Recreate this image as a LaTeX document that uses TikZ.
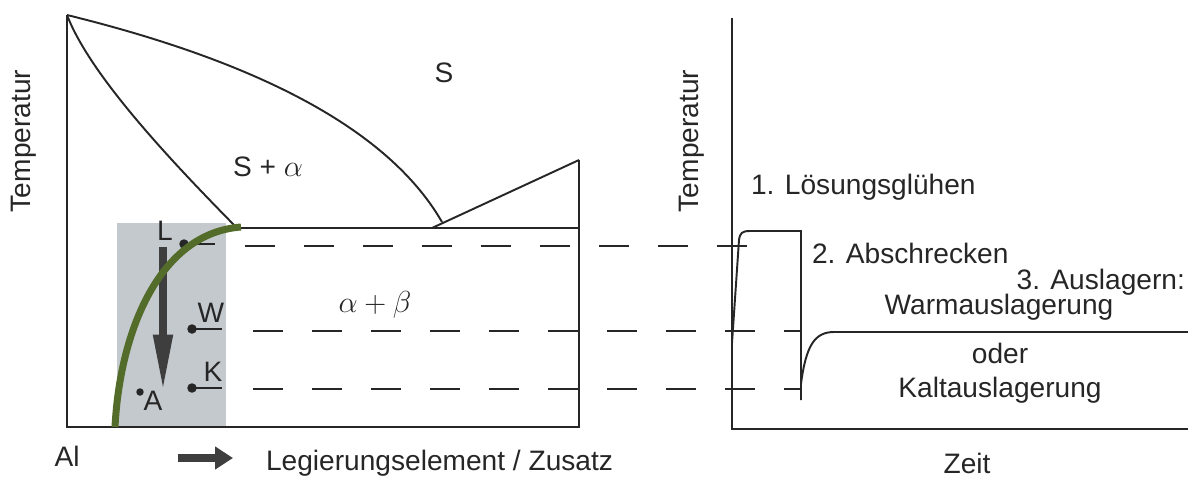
\documentclass[tikz,border=0pt]{standalone}
\usepackage{fontspec}
\setmainfont{Liberation Sans}
\usepackage{xcolor}
\usepackage{tikz}
\usetikzlibrary{arrows.meta, positioning, calc}

\definecolor{alloygreen}{RGB}{84,108,42}
\definecolor{zonegray}{RGB}{196,201,206}
\definecolor{inkgray}{RGB}{38,38,38}
\definecolor{arrowgray}{RGB}{62,62,62}

\tikzset{
  lbl/.style={font=\fontsize{16}{19}\selectfont, text=inkgray, inner sep=1pt},
  phaseline/.style={line width=1.1pt, draw=inkgray},
  guideline/.style={line width=1.1pt, draw=inkgray, dash pattern=on 0.6cm off 0.58cm},
  dot/.style={circle, fill=inkgray, inner sep=0pt, minimum size=0.19cm}
}

\begin{document}
\begin{tikzpicture}[x=0.02cm, y=-0.02cm]
  \useasboundingbox (0,0) rectangle (1188,478);

  % Shaded range of the alloys
  \fill[zonegray] (117,223) rectangle (226,427);

  % Phase diagram frame
  \coordinate (Otop) at (67,15);
  \coordinate (Obot) at (67,427);
  \coordinate (Rbot) at (579,427);
  \coordinate (Rtop) at (579,160);
  \coordinate (Eleft) at (237,228);
  \coordinate (Eright) at (579,228);
  \coordinate (Pfoot) at (432,228);
  \coordinate (Pend) at (442,222);
  \draw[phaseline] (Otop) -- (Obot) -- (Rbot) -- (Rtop);
  \draw[phaseline] (Eleft) -- (Eright);
  \draw[phaseline] (Pfoot) -- (Rtop);

  % Liquidus and solidus
  \draw[phaseline] (Otop) .. controls (230,55) and (382,118) .. (Pend);
  \draw[phaseline] (Otop) .. controls (90,75) and (170,160) .. (Eleft);

  % Phase fields
  \node[lbl] (S) at (444,73) {S};
  \node[lbl] (Salpha) at (268,167) {S + $\alpha$};
  \node[lbl] (AlphaBeta) at (375,305) {$\alpha + \beta$};

  % Points L, W, K, A
  \node[dot] (Ldot) at (184,244) {};
  \node[dot] (Wdot) at (192,329) {};
  \node[dot] (Kdot) at (192,388) {};
  \node[dot, minimum size=0.15cm] (Adot) at (140,392) {};
  \node[lbl] (Llab) at (165,231) {L};
  \node[lbl] (Wlab) at (211,313) {W};
  \node[lbl] (Klab) at (213,372) {K};
  \node[lbl] (Alab) at (153,401) {A};
  \coordinate (Lend) at (215,244);
  \coordinate (Wend) at (222,329);
  \coordinate (Kend) at (222,388);
  \draw[phaseline] (Ldot.center) -- (Lend);
  \draw[phaseline] (Wdot.center) -- (Wend);
  \draw[phaseline] (Kdot.center) -- (Kend);

  % Cooling arrow
  \coordinate (Cstart) at (163,247);
  \coordinate (Cend) at (163,392);
  \draw[arrowgray, line width=0.16cm, -{Triangle[length=1.15cm, width=0.36cm]}] (Cstart) -- (Cend);

  % Temperature guides to the time plot
  \coordinate (Lg) at (245,246);
  \coordinate (Lt) at (747,246);
  \coordinate (Wg) at (253,331);
  \coordinate (Wt) at (801,331);
  \coordinate (Kg) at (253,389);
  \coordinate (Kt) at (801,389);
  \draw[guideline] (Lg) -- (Lt);
  \draw[guideline] (Wg) -- (Wt);
  \draw[guideline] (Kg) -- (Kt);

  % Solvus line
  \coordinate (Gbot) at (115,427);
  \coordinate (Gtop) at (241,227);
  \draw[alloygreen, line width=0.14cm] (Gbot) .. controls (120,330) and (160,233) .. (Gtop);

  % Composition axis
  \node[lbl] (Al) at (67,456) {Al};
  \coordinate (Xa) at (178,458);
  \coordinate (Xb) at (233,458);
  \draw[arrowgray, line width=0.17cm, -{Triangle[length=0.36cm, width=0.44cm]}] (Xa) -- (Xb);
  \node[lbl, anchor=west] (Xlab) at (264,463) {Legierungselement / Zusatz};
  \node[lbl, rotate=90] (Tleft) at (24,141) {Temperatur};

  % Time plot axes
  \coordinate (Ttop) at (732,18);
  \coordinate (Tbot) at (732,429);
  \coordinate (Tend) at (1188,429);
  \draw[phaseline] (Ttop) -- (Tbot) -- (Tend);
  \node[lbl, rotate=90] (Tright) at (692,141) {Temperatur};
  \node[lbl] (Zeit) at (967,463) {Zeit};

  % Heat treatment curve
  \draw[phaseline] (732,343) -- (739,240) .. controls (740,233) and (742,231) .. (750,231)
    -- (801,231) -- (801,400);
  \draw[phaseline] (801,384) .. controls (806,345) and (815,332) .. (834,332) -- (1188,332);

  % Process steps
  \node[lbl, anchor=west] (Step1) at (749,187) {1. Lösungsglühen};
  \node[lbl, anchor=west] (Step2) at (810,253) {2. Abschrecken};
  \node[lbl, anchor=east] (Step3) at (1187,282) {3. Auslagern:};
  \node[lbl] (Warm) at (999,307) {Warmauslagerung};
  \node[lbl] (Oder) at (1000,353) {oder};
  \node[lbl] (Kalt) at (1000,390) {Kaltauslagerung};
\end{tikzpicture}
\end{document}
